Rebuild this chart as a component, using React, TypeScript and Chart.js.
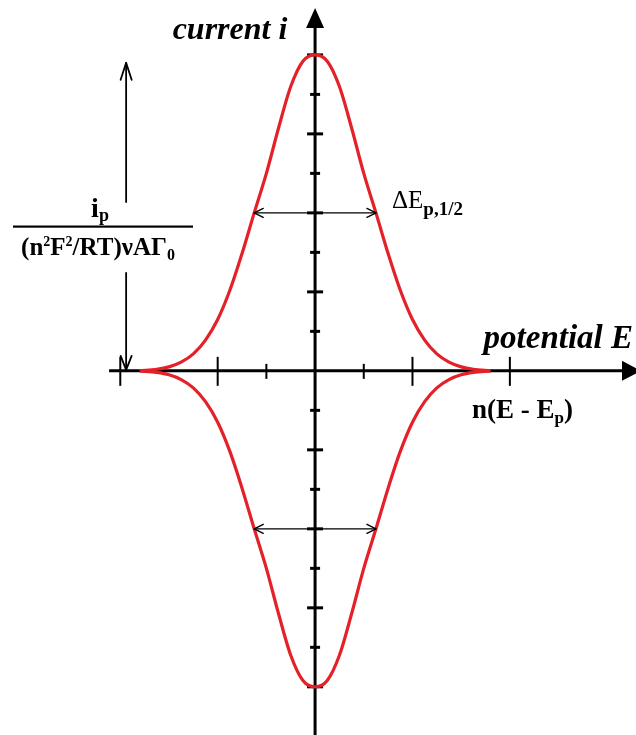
import { useEffect, useRef } from 'react';
import { Chart, registerables } from 'chart.js';

Chart.register(...registerables);

// Normalised potential n(E - Ep), in axis tick units
const potential = [
  -3.6, -3.25, -3, -2.75, -2.5, -2.25, -2, -1.75, -1.5, -1.25, -1, -0.75, -0.5, -0.25,
  0, 0.25, 0.5, 0.75, 1, 1.25, 1.5, 1.75, 2, 2.25, 2.5, 2.75, 3, 3.25, 3.6,
];
// Anodic (upper) branch of the normalised current, in axis tick units
const anodicCurrent = [
  0, 0.04, 0.1, 0.22, 0.43, 0.78, 1.3, 2.04, 2.97, 4.0, 5.0, 6.15, 7.2, 7.84,
  8.0, 7.84, 7.2, 6.15, 5.0, 4.0, 2.97, 2.04, 1.3, 0.78, 0.43, 0.22, 0.1, 0.04, 0,
];
// Cathodic (lower) branch mirrors the anodic one
const cathodicCurrent = anodicCurrent.map((v) => -v);

// Half-height level and the potentials where the peak width is measured
const halfHeight = 4;
const halfWidthPotentials = [-1.25, 1.25];

// Tick marks
const xMajorTicks = [-4, -2, 2, 4];
const xMinorTicks = [-1, 1];
const yTicks = [1, 2, 3, 4, 5, 6, 7, 8];

// Visible window of the plane
const X_MIN = -6.47;
const X_MAX = 6.59;
const Y_MIN = -9.22;
const Y_MAX = 9.39;

const RED = '#e42128';
const SERIF = '"Liberation Serif", "Times New Roman", serif';

type Run = { text: string; font: string; dy?: number };

function drawRuns(
  ctx: CanvasRenderingContext2D,
  x: number,
  y: number,
  runs: Run[],
  align: 'left' | 'center' | 'right' = 'left'
) {
  let total = 0;
  const widths = runs.map((r) => {
    ctx.font = r.font;
    const w = ctx.measureText(r.text).width;
    total += w;
    return w;
  });
  let cx = align === 'left' ? x : align === 'center' ? x - total / 2 : x - total;
  runs.forEach((r, i) => {
    ctx.font = r.font;
    ctx.fillText(r.text, cx, y + (r.dy || 0));
    cx += widths[i];
  });
}

function openHead(
  ctx: CanvasRenderingContext2D,
  tipX: number,
  tipY: number,
  dirX: number,
  dirY: number,
  len: number,
  half: number
) {
  const px = -dirY;
  const py = dirX;
  ctx.beginPath();
  ctx.moveTo(tipX - dirX * len + px * half, tipY - dirY * len + py * half);
  ctx.lineTo(tipX, tipY);
  ctx.lineTo(tipX - dirX * len - px * half, tipY - dirY * len - py * half);
  ctx.stroke();
}

const axesPlugin = {
  id: 'centredAxes',
  beforeDatasetsDraw(chart: Chart) {
    const ctx = chart.ctx;
    const xs = chart.scales.x;
    const ys = chart.scales.y;
    const x0 = xs.getPixelForValue(0);
    const y0 = ys.getPixelForValue(0);
    const area = chart.chartArea;

    ctx.save();
    ctx.fillStyle = '#000';
    ctx.strokeStyle = '#000';
    ctx.lineCap = 'butt';

    // horizontal axis with filled arrow
    ctx.lineWidth = 3;
    ctx.beginPath();
    ctx.moveTo(xs.getPixelForValue(-4.23), y0);
    ctx.lineTo(area.right - 4, y0);
    ctx.stroke();
    ctx.beginPath();
    ctx.moveTo(area.right + 5, y0);
    ctx.lineTo(area.right - 14, y0 - 10);
    ctx.lineTo(area.right - 14, y0 + 10);
    ctx.closePath();
    ctx.fill();

    // vertical axis with filled arrow
    const yTop = ys.getPixelForValue(9.19);
    ctx.beginPath();
    ctx.moveTo(x0, area.bottom);
    ctx.lineTo(x0, yTop + 12);
    ctx.stroke();
    ctx.beginPath();
    ctx.moveTo(x0, yTop);
    ctx.lineTo(x0 - 9, yTop + 20);
    ctx.lineTo(x0 + 9, yTop + 20);
    ctx.closePath();
    ctx.fill();

    // ticks on the potential axis
    ctx.lineWidth = 2;
    xMajorTicks.forEach((t) => {
      const px = xs.getPixelForValue(t);
      ctx.beginPath();
      ctx.moveTo(px, y0 - 14);
      ctx.lineTo(px, y0 + 15);
      ctx.stroke();
    });
    xMinorTicks.forEach((t) => {
      const px = xs.getPixelForValue(t);
      ctx.beginPath();
      ctx.moveTo(px, y0 - 7);
      ctx.lineTo(px, y0 + 8);
      ctx.stroke();
    });

    // ticks on the current axis
    ctx.lineWidth = 3;
    yTicks.forEach((t) => {
      const half = t % 2 === 0 ? 8 : 5;
      [t, -t].forEach((v) => {
        const py = ys.getPixelForValue(v);
        ctx.beginPath();
        ctx.moveTo(x0 - half, py);
        ctx.lineTo(x0 + half, py);
        ctx.stroke();
      });
    });
    ctx.restore();
  },
  afterDatasetsDraw(chart: Chart) {
    const ctx = chart.ctx;
    const xs = chart.scales.x;
    const ys = chart.scales.y;
    const y0 = ys.getPixelForValue(0);

    ctx.save();
    ctx.strokeStyle = '#000';
    ctx.fillStyle = '#000';
    ctx.lineCap = 'round';
    ctx.lineJoin = 'round';

    // peak-width markers at half height, on both branches
    ctx.lineWidth = 1.4;
    const xl = xs.getPixelForValue(halfWidthPotentials[0]);
    const xr = xs.getPixelForValue(halfWidthPotentials[1]);
    [halfHeight, -halfHeight].forEach((v) => {
      const py = ys.getPixelForValue(v);
      ctx.beginPath();
      ctx.moveTo(xl, py);
      ctx.lineTo(xr, py);
      ctx.stroke();
      openHead(ctx, xl, py, -1, 0, 9, 4.5);
      openHead(ctx, xr, py, 1, 0, 9, 4.5);
    });

    // peak-current double arrow on the left
    const ax = xs.getPixelForValue(-3.88);
    const aTop = ys.getPixelForValue(7.8);
    ctx.lineWidth = 1.8;
    ctx.beginPath();
    ctx.moveTo(ax, aTop);
    ctx.lineTo(ax, 202);
    ctx.moveTo(ax, 273);
    ctx.lineTo(ax, y0 - 1);
    ctx.stroke();
    openHead(ctx, ax, aTop, 0, -1, 17, 5.5);
    openHead(ctx, ax, y0 - 1, 0, 1, 14, 5.5);

    // fraction label
    ctx.textBaseline = 'alphabetic';
    const B = (s: number) => `bold ${s}px ${SERIF}`;
    drawRuns(ctx, 100, 217, [
      { text: 'i', font: B(28) },
      { text: 'p', font: B(18), dy: 4 },
    ], 'center');
    ctx.fillRect(13, 225.5, 180, 2.2);
    drawRuns(ctx, 98, 255, [
      { text: '(n', font: B(25) },
      { text: '2', font: B(14), dy: -9 },
      { text: 'F', font: B(25) },
      { text: '2', font: B(14), dy: -9 },
      { text: '/RT)νAΓ', font: B(25) },
      { text: '0', font: B(16), dy: 5 },
    ], 'center');

    // axis titles
    drawRuns(ctx, 230, 39, [{ text: 'current i', font: `italic bold 32px ${SERIF}` }], 'center');
    drawRuns(ctx, 633, 348, [{ text: 'potential E', font: `italic bold 33px ${SERIF}` }], 'right');
    drawRuns(ctx, 472, 418, [
      { text: 'n(E - E', font: B(27) },
      { text: 'p', font: B(17), dy: 5 },
      { text: ')', font: B(27) },
    ]);

    // peak width label
    drawRuns(ctx, 392, 208, [
      { text: 'ΔE', font: `${25}px ${SERIF}` },
      { text: 'p,1/2', font: B(19), dy: 7 },
    ]);

    ctx.restore();
  },
};

export default function App() {
  const canvasRef = useRef<HTMLCanvasElement | null>(null);

  useEffect(() => {
    const canvas = canvasRef.current;
    if (!canvas) return;
    const toPoints = (ys: number[]) => potential.map((x, i) => ({ x, y: ys[i] }));
    const chart = new Chart(canvas, {
      type: 'scatter',
      data: {
        datasets: [
          {
            data: toPoints(anodicCurrent),
            showLine: true,
            borderColor: RED,
            borderWidth: 3.2,
            pointRadius: 0,
            cubicInterpolationMode: 'monotone',
          },
          {
            data: toPoints(cathodicCurrent),
            showLine: true,
            borderColor: RED,
            borderWidth: 3.2,
            pointRadius: 0,
            cubicInterpolationMode: 'monotone',
          },
        ],
      },
      options: {
        responsive: false,
        animation: false,
        devicePixelRatio: 1,
        layout: { padding: 0 },
        plugins: { legend: { display: false }, tooltip: { enabled: false } },
        scales: {
          x: { type: 'linear', min: X_MIN, max: X_MAX, display: false },
          y: { type: 'linear', min: Y_MIN, max: Y_MAX, display: false },
        },
      },
      plugins: [axesPlugin],
    });
    return () => chart.destroy();
  }, []);

  return (
    <div style={{ position: 'fixed', left: 0, top: 0, width: 636, height: 735, background: '#fff' }}>
      <canvas ref={canvasRef} width={636} height={735} style={{ display: 'block' }} />
    </div>
  );
}
